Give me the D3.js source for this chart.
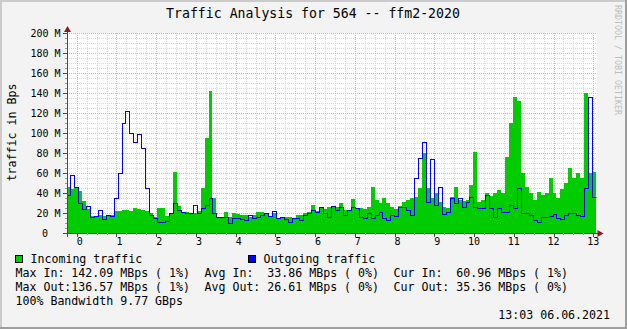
<!DOCTYPE html>
<html>
<head>
<meta charset="utf-8">
<title>Traffic Analysis for 564 -- ffm2-2020</title>
<script src="https://d3js.org/d3.v7.min.js"></script>
<style>
    html, body { margin: 0; padding: 0; background: #f3f3f3; }
    svg { display: block; }
    text { font-family: "DejaVu Sans Mono", monospace; fill: #000; }
</style>
</head>
<body>
<script>

// --- data (M Bps), one sample every ~2.4h ---
var incoming = [
    46, 44, 45, 42, 32, 24, 17, 17, 18, 17, 17, 18, 22, 22, 23, 23, 22, 25, 24, 23,
    22, 20, 16, 25, 25, 17, 20, 61, 27, 20, 21, 20, 20, 22, 45, 95, 142, 35, 16, 16,
    21, 16, 20, 19, 18, 18, 16, 18, 21, 21, 20, 17, 20, 15, 15, 16, 16, 15, 18, 18,
    20, 21, 28, 22, 26, 24, 26, 26, 26, 30, 23, 23, 34, 25, 25, 24, 26, 46, 33, 30,
    35, 30, 26, 24, 27, 31, 33, 35, 36, 45, 80, 45, 35, 40, 31, 26, 25, 36, 46, 33,
    32, 33, 48, 81, 31, 33, 40, 37, 40, 43, 40, 76, 110, 136, 132, 60, 46, 40, 33, 41,
    38, 40, 55, 40, 35, 44, 50, 65, 55, 60, 55, 140, 60, 61
];
var outgoing = [
    38, 58, 46, 30, 24, 27, 16, 17, 23, 14, 18, 17, 35, 60, 110, 122, 100, 91, 99, 85,
    45, 18, 15, 11, 11, 12, 20, 30, 23, 21, 20, 20, 28, 20, 25, 28, 35, 20, 16, 16,
    16, 10, 15, 15, 14, 13, 18, 15, 16, 18, 20, 17, 22, 15, 16, 14, 11, 15, 15, 13,
    18, 20, 23, 21, 26, 20, 16, 27, 23, 26, 18, 23, 26, 25, 16, 15, 20, 15, 18, 21,
    15, 13, 18, 17, 26, 26, 23, 18, 55, 75, 91, 31, 74, 28, 46, 19, 21, 35, 30, 35,
    26, 31, 36, 26, 25, 25, 38, 25, 16, 25, 21, 21, 28, 25, 45, 20, 20, 18, 13, 11,
    16, 16, 17, 19, 15, 14, 18, 20, 20, 18, 17, 45, 136, 36
];
var sampleStart = -0.215;   // day of first sample
var sampleStep = 0.0995;    // days between samples

var dayLabels = ["0","1","2","3","4","5","6","7","8","9","10","11","12","13"];
var yTicks = [0, 20, 40, 60, 80, 100, 120, 140, 160, 180, 200];

var legendLines = [
    ["Max In: 142.09 MBps ( 1%)", "Avg In:  33.86 MBps ( 0%)", "Cur In:  60.96 MBps ( 1%)"],
    ["Max Out:136.57 MBps ( 1%)", "Avg Out: 26.61 MBps ( 0%)", "Cur Out: 35.36 MBps ( 0%)"]
];

var W = 627, H = 329;
var plot = {left: 67, right: 596.5, top: 33, bottom: 233};

var svg = d3.select("body").append("svg").attr("width", W).attr("height", H);

// background + 3d frame
svg.append("rect").attr("width", W).attr("height", H).attr("fill", "#f3f3f3");
svg.append("rect").attr("x", 0).attr("y", 0).attr("width", W).attr("height", 2).attr("fill", "#cbcbcb");
svg.append("rect").attr("x", 0).attr("y", 0).attr("width", 2).attr("height", H).attr("fill", "#cbcbcb");
svg.append("rect").attr("x", 0).attr("y", H - 2).attr("width", W).attr("height", 2).attr("fill", "#9e9e9e");
svg.append("rect").attr("x", W - 2).attr("y", 0).attr("width", 2).attr("height", H).attr("fill", "#9e9e9e");

var x = d3.scaleLinear().domain([0, 13]).range([76.7, 593.3]);
var y = d3.scaleLinear().domain([0, 200]).range([plot.bottom, plot.top]);

// canvas
svg.append("rect")
    .attr("x", plot.left).attr("y", plot.top)
    .attr("width", plot.right - plot.left).attr("height", plot.bottom - plot.top)
    .attr("fill", "#ffffff");

var grid = svg.append("g").attr("shape-rendering", "crispEdges");
var tMin = x.invert(plot.left), tMax = x.invert(plot.right);

// minor grid
d3.range(Math.ceil(tMin * 4), Math.floor(tMax * 4) + 1).map(function (k) { return k / 4; })
    .filter(function (t) { return t % 1 !== 0 && x(t) > plot.left + 1; })
    .forEach(function (t) {
        var px = Math.round(x(t)) + 0.5;
        grid.append("line").attr("x1", px).attr("x2", px).attr("y1", plot.top).attr("y2", plot.bottom)
            .attr("stroke", "#d6d6d6").attr("stroke-dasharray", "1,1");
    });
d3.range(5, 200, 5).filter(function (v) { return v % 20 !== 0; }).forEach(function (v) {
    var py = Math.round(y(v)) + 0.5;
    grid.append("line").attr("x1", plot.left).attr("x2", plot.right).attr("y1", py).attr("y2", py)
        .attr("stroke", "#d6d6d6").attr("stroke-dasharray", "1,1");
});
// major grid
dayLabels.forEach(function (d, i) {
    var px = Math.round(x(i)) + 0.5;
    grid.append("line").attr("x1", px).attr("x2", px).attr("y1", plot.top).attr("y2", plot.bottom)
        .attr("stroke", "#e6aaaa").attr("stroke-dasharray", "1,1");
});
yTicks.slice(1).forEach(function (v) {
    var py = Math.round(y(v)) + 0.5;
    grid.append("line").attr("x1", plot.left).attr("x2", plot.right).attr("y1", py).attr("y2", py)
        .attr("stroke", "#e6aaaa").attr("stroke-dasharray", "1,1");
});

// data as steps
function toSteps(values) {
    var pts = values.map(function (v, i) {
        return {t: sampleStart + i * sampleStep - sampleStep / 2, v: v};
    });
    pts.push({t: sampleStart + values.length * sampleStep - sampleStep / 2, v: values[values.length - 1]});
    return pts;
}

svg.append("clipPath").attr("id", "plotClip").append("rect")
    .attr("x", plot.left + 1).attr("y", plot.top - 2)
    .attr("width", plot.right - plot.left - 1).attr("height", plot.bottom - plot.top + 2);

var dataG = svg.append("g").attr("clip-path", "url(#plotClip)");

var area = d3.area()
    .curve(d3.curveStepAfter)
    .x(function (d) { return Math.round(x(d.t)); })
    .y0(y(0))
    .y1(function (d) { return Math.round(y(d.v)); });

dataG.append("path")
    .attr("d", area(toSteps(incoming)))
    .attr("fill", "#00cc00")
    .attr("shape-rendering", "crispEdges");

var line = d3.line()
    .curve(d3.curveStepAfter)
    .x(function (d) { return Math.round(x(d.t)) + 0.5; })
    .y(function (d) { return Math.round(y(d.v)) + 0.5; });

dataG.append("path")
    .attr("d", line(toSteps(outgoing)))
    .attr("fill", "none")
    .attr("stroke", "#0000ff")
    .attr("stroke-width", 1)
    .attr("shape-rendering", "crispEdges");

// axes
var axes = svg.append("g").attr("shape-rendering", "crispEdges");
axes.append("line").attr("x1", plot.left + 0.5).attr("x2", plot.left + 0.5)
    .attr("y1", plot.top - 4).attr("y2", plot.bottom + 4).attr("stroke", "#4a4a4a");
axes.append("line").attr("x1", plot.left - 4).attr("x2", plot.right + 2)
    .attr("y1", plot.bottom + 0.5).attr("y2", plot.bottom + 0.5).attr("stroke", "#4a4a4a");

// y ticks
d3.range(5, 205, 5).forEach(function (v) {
    var py = Math.round(y(v)) + 0.5;
    var major = v % 20 === 0;
    axes.append("line").attr("x1", plot.left - (major ? 4 : 2)).attr("x2", plot.left)
        .attr("y1", py).attr("y2", py).attr("stroke", major ? "#4a4a4a" : "#999");
});
// x ticks
d3.range(Math.ceil(tMin * 4), Math.floor(tMax * 4) + 1).forEach(function (k) {
    var t = k / 4;
    if (x(t) <= plot.left + 1) return;
    var px = Math.round(x(t)) + 0.5;
    var major = k % 4 === 0;
    axes.append("line").attr("x1", px).attr("x2", px)
        .attr("y1", plot.bottom).attr("y2", plot.bottom + (major ? 4 : 2))
        .attr("stroke", major ? "#4a4a4a" : "#999");
});

// arrows
svg.append("path")
    .attr("d", "M" + (plot.left - 3) + "," + (plot.top - 1) + "L" + (plot.left + 4) + "," + (plot.top - 1) +
        "L" + (plot.left + 0.5) + "," + (plot.top - 7) + "Z")
    .attr("fill", "#8b1c1c");
svg.append("path")
    .attr("d", "M" + (plot.right + 1) + "," + (plot.bottom - 3) + "L" + (plot.right + 1) + "," + (plot.bottom + 4) +
        "L" + (plot.right + 7) + "," + (plot.bottom + 0.5) + "Z")
    .attr("fill", "#8b1c1c");

// y labels
yTicks.forEach(function (v) {
    svg.append("text")
        .attr("x", v === 0 ? 48 : 60.5)
        .attr("y", y(v) + 3.6)
        .attr("text-anchor", "end")
        .style("font-size", "10px")
        .text(v === 0 ? "0" : v + " M");
});
// x labels
dayLabels.forEach(function (d, i) {
    svg.append("text")
        .attr("x", x(i) + (d.length === 1 ? 3 : 0))
        .attr("y", 245)
        .attr("text-anchor", "middle")
        .style("font-size", "10px")
        .text(d);
});

// title
svg.append("text")
    .attr("x", 313).attr("y", 18)
    .attr("text-anchor", "middle")
    .style("font-size", "13.2px")
    .text("Traffic Analysis for 564 -- ffm2-2020");

// vertical axis label
svg.append("text")
    .attr("transform", "translate(15.5,132.5) rotate(-90)")
    .attr("text-anchor", "middle")
    .style("font-size", "11.6px")
    .text("traffic in Bps");

// watermark
svg.append("text")
    .attr("transform", "translate(614.5,5) rotate(90)")
    .attr("text-anchor", "start")
    .style("font-size", "8.3px")
    .style("fill", "#bdbdbd")
    .text("RRDTOOL / TOBI OETIKER");

// legend
var legend = [
    {label: "Incoming traffic", color: "#00cc00", x: 15.5},
    {label: "Outgoing traffic", color: "#0000ff", x: 248.5}
];
legend.forEach(function (d) {
    svg.append("rect").attr("x", d.x).attr("y", 255.5).attr("width", 7).attr("height", 7)
        .attr("fill", d.color).attr("stroke", "#000").attr("shape-rendering", "crispEdges");
    svg.append("text").attr("x", d.x + 15).attr("y", 263)
        .style("font-size", "11.6px").style("white-space", "pre").text(d.label);
});

var colX = [15.5, 204.5, 393.5];
legendLines.forEach(function (row, r) {
    row.forEach(function (s, c) {
        svg.append("text").attr("x", colX[c]).attr("y", 277 + r * 14)
            .attr("xml:space", "preserve").style("white-space", "pre")
            .style("font-size", "11.6px").text(s);
    });
});
svg.append("text").attr("x", 15.5).attr("y", 305)
    .style("font-size", "11.6px").style("white-space", "pre")
    .text("100% Bandwidth 9.77 GBps");

svg.append("text").attr("x", 610).attr("y", 319)
    .attr("text-anchor", "end")
    .style("font-size", "11.6px")
    .text("13:03 06.06.2021");

</script>
</body>
</html>
